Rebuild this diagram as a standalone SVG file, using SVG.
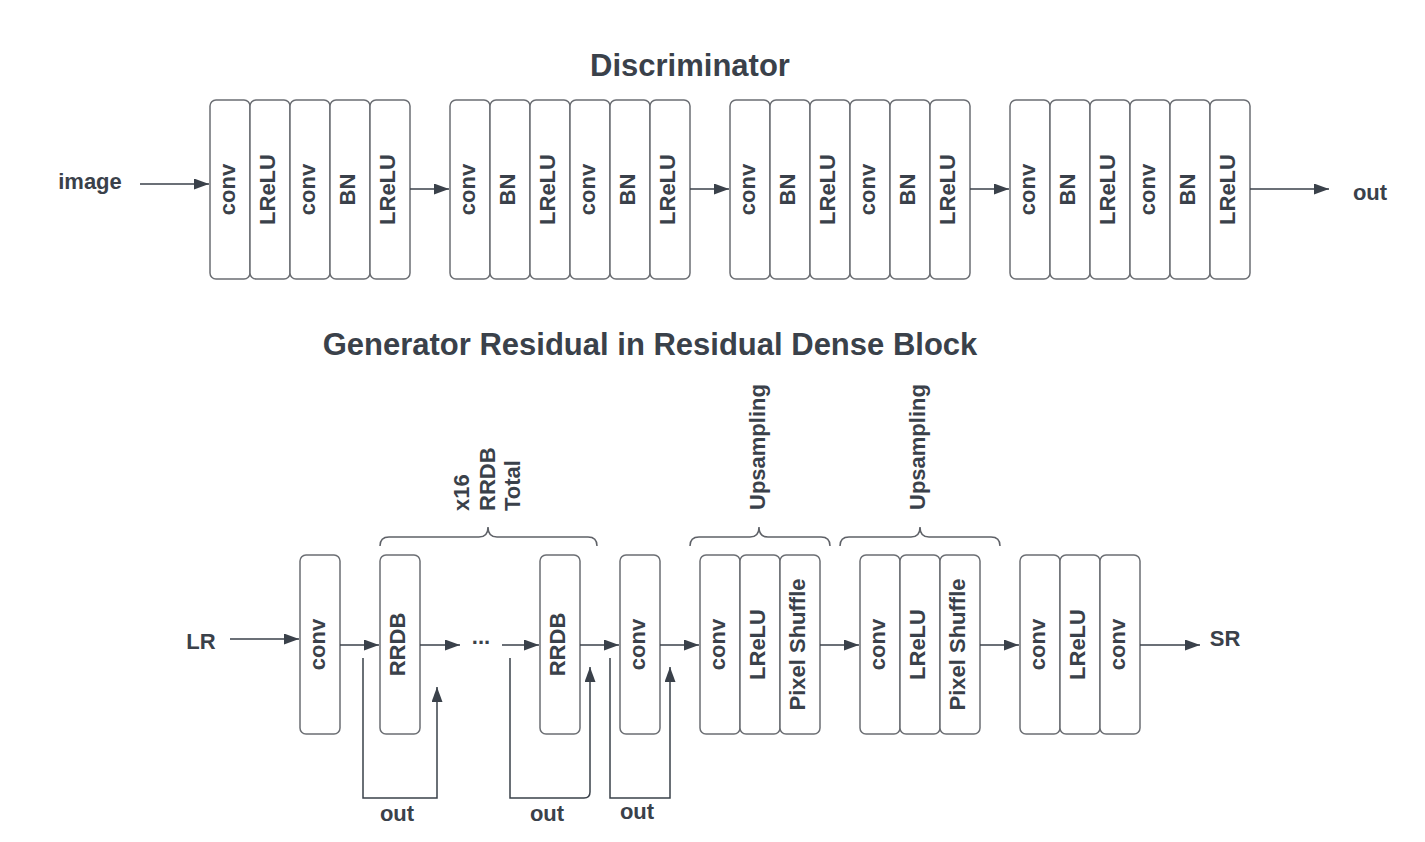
<svg xmlns="http://www.w3.org/2000/svg" width="1425" height="842" viewBox="0 0 1425 842">
<style>
.bg{fill:#ffffff}
.box{fill:#ffffff;stroke:#6b6e73;stroke-width:1.5}
.t{font-family:"Liberation Sans",Arial,sans-serif;font-weight:bold;font-size:22px;fill:#3a414a}
.title{font-family:"Liberation Sans",Arial,sans-serif;font-weight:bold;font-size:31px;fill:#3a414a;text-anchor:middle}
.c{text-anchor:middle}
.ln{fill:none;stroke:#3a414a;stroke-width:1.5}
.arr{marker-end:url(#ah)}
.brace{fill:none;stroke:#5e6167;stroke-width:1.5}
</style>
<defs>
<marker id="ah" markerUnits="userSpaceOnUse" markerWidth="16" markerHeight="12" refX="15" refY="5.5" orient="auto">
<path d="M0,0 L15,5.5 L0,11 Z" fill="#3a414a"/>
</marker>
</defs>
<rect class="bg" x="0" y="0" width="1425" height="842"/>

<text class="title" x="690" y="76">Discriminator</text>
<text class="title" x="650" y="355">Generator Residual in Residual Dense Block</text>

<g id="label-image"><text class="t c" x="90" y="189">image</text></g>
<g id="label-out-d"><text class="t c" x="1370" y="200">out</text></g>
<g id="label-LR"><text class="t c" x="201" y="649">LR</text></g>
<g id="label-SR"><text class="t c" x="1225" y="646">SR</text></g>

<!-- Discriminator group 1 -->
<g id="d1">
<rect class="box" x="210" y="100" width="40" height="179" rx="6"/><text class="t c" transform="translate(230,189.5) rotate(-90)" y="5">conv</text>
<rect class="box" x="250" y="100" width="40" height="179" rx="6"/><text class="t c" transform="translate(270,189.5) rotate(-90)" y="5">LReLU</text>
<rect class="box" x="290" y="100" width="40" height="179" rx="6"/><text class="t c" transform="translate(310,189.5) rotate(-90)" y="5">conv</text>
<rect class="box" x="330" y="100" width="40" height="179" rx="6"/><text class="t c" transform="translate(350,189.5) rotate(-90)" y="5">BN</text>
<rect class="box" x="370" y="100" width="40" height="179" rx="6"/><text class="t c" transform="translate(390,189.5) rotate(-90)" y="5">LReLU</text>
</g>
<g id="d2">
<rect class="box" x="450" y="100" width="40" height="179" rx="6"/><text class="t c" transform="translate(470,189.5) rotate(-90)" y="5">conv</text>
<rect class="box" x="490" y="100" width="40" height="179" rx="6"/><text class="t c" transform="translate(510,189.5) rotate(-90)" y="5">BN</text>
<rect class="box" x="530" y="100" width="40" height="179" rx="6"/><text class="t c" transform="translate(550,189.5) rotate(-90)" y="5">LReLU</text>
<rect class="box" x="570" y="100" width="40" height="179" rx="6"/><text class="t c" transform="translate(590,189.5) rotate(-90)" y="5">conv</text>
<rect class="box" x="610" y="100" width="40" height="179" rx="6"/><text class="t c" transform="translate(630,189.5) rotate(-90)" y="5">BN</text>
<rect class="box" x="650" y="100" width="40" height="179" rx="6"/><text class="t c" transform="translate(670,189.5) rotate(-90)" y="5">LReLU</text>
</g>
<g id="d3">
<rect class="box" x="730" y="100" width="40" height="179" rx="6"/><text class="t c" transform="translate(750,189.5) rotate(-90)" y="5">conv</text>
<rect class="box" x="770" y="100" width="40" height="179" rx="6"/><text class="t c" transform="translate(790,189.5) rotate(-90)" y="5">BN</text>
<rect class="box" x="810" y="100" width="40" height="179" rx="6"/><text class="t c" transform="translate(830,189.5) rotate(-90)" y="5">LReLU</text>
<rect class="box" x="850" y="100" width="40" height="179" rx="6"/><text class="t c" transform="translate(870,189.5) rotate(-90)" y="5">conv</text>
<rect class="box" x="890" y="100" width="40" height="179" rx="6"/><text class="t c" transform="translate(910,189.5) rotate(-90)" y="5">BN</text>
<rect class="box" x="930" y="100" width="40" height="179" rx="6"/><text class="t c" transform="translate(950,189.5) rotate(-90)" y="5">LReLU</text>
</g>
<g id="d4">
<rect class="box" x="1010" y="100" width="40" height="179" rx="6"/><text class="t c" transform="translate(1030,189.5) rotate(-90)" y="5">conv</text>
<rect class="box" x="1050" y="100" width="40" height="179" rx="6"/><text class="t c" transform="translate(1070,189.5) rotate(-90)" y="5">BN</text>
<rect class="box" x="1090" y="100" width="40" height="179" rx="6"/><text class="t c" transform="translate(1110,189.5) rotate(-90)" y="5">LReLU</text>
<rect class="box" x="1130" y="100" width="40" height="179" rx="6"/><text class="t c" transform="translate(1150,189.5) rotate(-90)" y="5">conv</text>
<rect class="box" x="1170" y="100" width="40" height="179" rx="6"/><text class="t c" transform="translate(1190,189.5) rotate(-90)" y="5">BN</text>
<rect class="box" x="1210" y="100" width="40" height="179" rx="6"/><text class="t c" transform="translate(1230,189.5) rotate(-90)" y="5">LReLU</text>
</g>

<!-- Generator -->
<g id="g-conv1"><rect class="box" x="300" y="555" width="40" height="179" rx="6"/><text class="t c" transform="translate(320,644.5) rotate(-90)" y="5">conv</text></g>
<g id="g-rrdb1"><rect class="box" x="380" y="555" width="40" height="179" rx="6"/><text class="t c" transform="translate(400,644.5) rotate(-90)" y="5">RRDB</text></g>
<g id="g-dots"><text class="t c" x="481" y="643.5">...</text></g>
<g id="g-rrdb2"><rect class="box" x="540" y="555" width="40" height="179" rx="6"/><text class="t c" transform="translate(560,644.5) rotate(-90)" y="5">RRDB</text></g>
<g id="g-conv2"><rect class="box" x="620" y="555" width="40" height="179" rx="6"/><text class="t c" transform="translate(640,644.5) rotate(-90)" y="5">conv</text></g>
<g id="g-up1">
<rect class="box" x="700" y="555" width="40" height="179" rx="6"/><text class="t c" transform="translate(720,644.5) rotate(-90)" y="5">conv</text>
<rect class="box" x="740" y="555" width="40" height="179" rx="6"/><text class="t c" transform="translate(760,644.5) rotate(-90)" y="5">LReLU</text>
<rect class="box" x="780" y="555" width="40" height="179" rx="6"/><text class="t c" transform="translate(800,644.5) rotate(-90)" y="5">Pixel Shuffle</text>
</g>
<g id="g-up2">
<rect class="box" x="860" y="555" width="40" height="179" rx="6"/><text class="t c" transform="translate(880,644.5) rotate(-90)" y="5">conv</text>
<rect class="box" x="900" y="555" width="40" height="179" rx="6"/><text class="t c" transform="translate(920,644.5) rotate(-90)" y="5">LReLU</text>
<rect class="box" x="940" y="555" width="40" height="179" rx="6"/><text class="t c" transform="translate(960,644.5) rotate(-90)" y="5">Pixel Shuffle</text>
</g>
<g id="g-final">
<rect class="box" x="1020" y="555" width="40" height="179" rx="6"/><text class="t c" transform="translate(1040,644.5) rotate(-90)" y="5">conv</text>
<rect class="box" x="1060" y="555" width="40" height="179" rx="6"/><text class="t c" transform="translate(1080,644.5) rotate(-90)" y="5">LReLU</text>
<rect class="box" x="1100" y="555" width="40" height="179" rx="6"/><text class="t c" transform="translate(1120,644.5) rotate(-90)" y="5">conv</text>
</g>

<!-- Braces and annotations -->
<g id="brace-rrdb">
<path class="brace" d="M380,546 Q380,537 389,537 H479 Q488,537 488,527 Q488,537 497,537 H588 Q597,537 597,546"/>
<text class="t" transform="translate(469,511) rotate(-90)"><tspan x="0" y="0">x16</tspan><tspan x="0" y="25.5">RRDB</tspan><tspan x="0" y="51">Total</tspan></text>
</g>
<g id="brace-up1">
<path class="brace" d="M690,546 Q690,537 699,537 H750 Q759,537 759,527 Q759,537 768,537 H821 Q830,537 830,546"/>
<text class="t" transform="translate(765,510) rotate(-90)">Upsampling</text>
</g>
<g id="brace-up2">
<path class="brace" d="M840,546 Q840,537 849,537 H911 Q920,537 920,527 Q920,537 929,537 H991 Q1000,537 1000,546"/>
<text class="t" transform="translate(925,510) rotate(-90)">Upsampling</text>
</g>

<g id="out-labels">
<text class="t c" x="397" y="821">out</text>
<text class="t c" x="547" y="821">out</text>
<text class="t c" x="637" y="819">out</text>
</g>

<g id="connectors">
<line class="ln arr" x1="140" y1="184" x2="209" y2="184"/>
<line class="ln arr" x1="410" y1="189" x2="449" y2="189"/>
<line class="ln arr" x1="690" y1="189" x2="729" y2="189"/>
<line class="ln arr" x1="970" y1="189" x2="1009" y2="189"/>
<line class="ln arr" x1="1250" y1="189" x2="1329" y2="189"/>

<line class="ln arr" x1="230" y1="639" x2="299" y2="639"/>
<line class="ln arr" x1="340" y1="645" x2="379" y2="645"/>
<line class="ln arr" x1="420" y1="645" x2="460" y2="645"/>
<line class="ln arr" x1="502" y1="645" x2="539" y2="645"/>
<line class="ln arr" x1="580" y1="645" x2="619" y2="645"/>
<line class="ln arr" x1="660" y1="645" x2="699" y2="645"/>
<line class="ln arr" x1="820" y1="645" x2="859" y2="645"/>
<line class="ln arr" x1="980" y1="645" x2="1019" y2="645"/>
<line class="ln arr" x1="1140" y1="645" x2="1200" y2="645"/>

<path class="ln arr" d="M363,658 V798 H437 V687"/>
<path class="ln arr" d="M510,658 V798 H584 Q590,798 590,792 V667"/>
<path class="ln arr" d="M610,658 V798 H670 V667"/>
</g>
</svg>
